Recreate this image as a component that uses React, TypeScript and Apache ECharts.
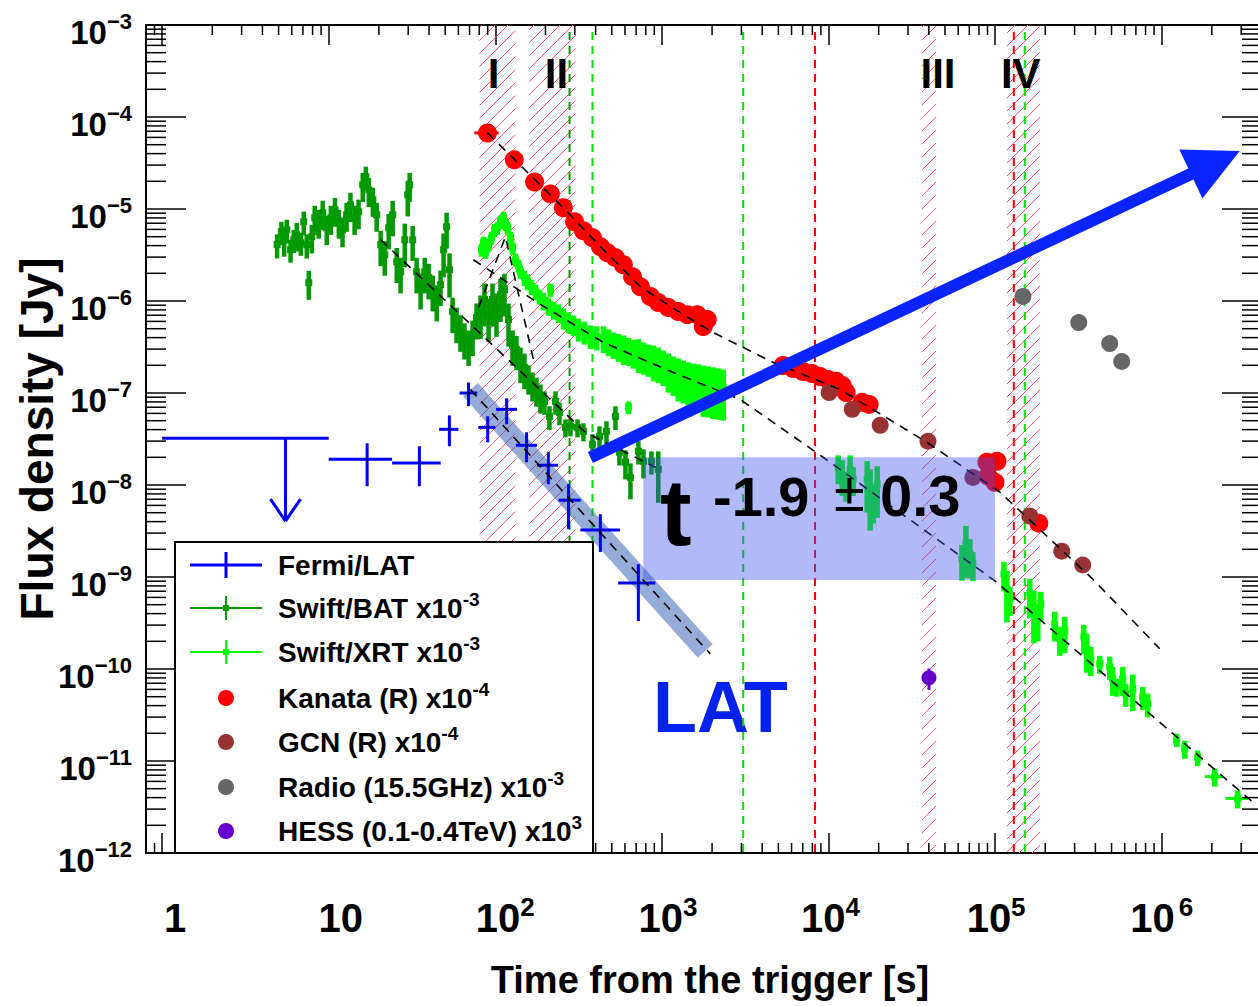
import React, { useEffect, useRef } from 'react';
import * as echarts from 'echarts';

const FONT = '"Liberation Sans", Arial, Helvetica, sans-serif';

const T_MIN = 0.8;
const T_MAX = 4e6;
const F_MIN = 1e-12;
const F_MAX = 1e-3;

// Fermi/LAT detections: [t, tLow, tHigh, flux, fluxLow, fluxHigh]
const latPoints = [
  [17, 10, 24, 1.9e-8, 9.7e-9, 2.84e-8],
  [35, 24, 47, 1.73e-8, 9.7e-9, 2.64e-8],
  [53, 46, 60, 4.03e-8, 2.64e-8, 5.71e-8],
  [69, 61, 78, 1.0e-7, 7.2e-8, 1.3e-7],
  [90, 79, 100, 4.23e-8, 2.91e-8, 5.57e-8],
  [117, 101, 135, 6.64e-8, 4.56e-8, 8.75e-8],
  [154, 133, 178, 2.7e-8, 1.77e-8, 3.74e-8],
  [208, 178, 238, 1.64e-8, 1.02e-8, 2.27e-8],
  [275, 240, 325, 6.84e-9, 3.32e-9, 1.02e-8],
  [427, 324, 560, 3.24e-9, 1.87e-9, 4.82e-9],
  [722, 546, 912, 8.61e-10, 3.33e-10, 1.38e-9],
];
// Fermi/LAT upper limit: [tArrow, flux, tLow, tHigh, arrowTipFlux]
const latUpperLimit = [[5.5, 3.22e-8, 1, 10, 4.05e-9]];

// Swift/BAT x1e-3: [t, flux, fluxErr]
const batPoints = [
  [4.9, 4.1e-6, 1.2e-6], [5.2, 5.66e-6, 1.6e-6], [5.4, 4.63e-6, 1.6e-6], [5.6, 5.94e-6, 1.7e-6],
  [5.9, 3.61e-6, 1.0e-6], [6.17, 4.63e-6, 1.3e-6], [6.43, 5.25e-6, 1.8e-6], [6.8, 4.3e-6, 1.2e-6],
  [7.08, 7.26e-6, 2.1e-6], [7.38, 4.09e-6, 1.2e-6], [7.59, 1.58e-6, 0.55e-6], [7.91, 4.99e-6, 1.7e-6],
  [8.24, 8.03e-6, 2.8e-6], [8.71, 7.26e-6, 2.5e-6], [9.2, 9.09e-6, 3.2e-6], [9.73, 6.25e-6, 2.2e-6],
  [10.3, 8.03e-6, 2.8e-6], [10.9, 9.8e-6, 3.4e-6], [11.5, 7.26e-6, 2.5e-6], [12.1, 5.94e-6, 2.1e-6],
  [12.8, 8.65e-6, 3.0e-6], [13.5, 1.11e-5, 3.9e-6], [14.3, 8.03e-6, 2.8e-6], [15.1, 9.33e-6, 3.3e-6],
  [16.0, 1.83e-5, 6.4e-6], [16.7, 2.24e-5, 6.4e-6], [17.4, 1.61e-5, 5.6e-6], [18.4, 1.26e-5, 4.4e-6],
  [19.4, 8.65e-6, 3.0e-6], [20.5, 4.09e-6, 1.7e-6], [21.7, 3.18e-6, 1.3e-6], [22.9, 6.25e-6, 2.6e-6],
  [24.2, 8.65e-6, 3.6e-6], [25.6, 2.67e-6, 1.1e-6], [27.0, 2.08e-6, 0.87e-6], [28.6, 4.63e-6, 2.3e-6],
  [29.8, 1.43e-5, 6.0e-6], [30.6, 1.83e-5, 6.4e-6], [31.9, 4.63e-6, 1.9e-6], [33.7, 2.08e-6, 0.87e-6],
  [35.6, 1.4e-6, 0.59e-6], [37.7, 2.08e-6, 0.87e-6], [39.8, 1.79e-6, 0.75e-6], [42.1, 1.33e-6, 0.56e-6],
  [44.5, 1.04e-6, 0.44e-6], [46.9, 1.51e-6, 0.63e-6], [48.9, 3.61e-6, 1.8e-6], [51.0, 6.41e-6, 2.7e-6],
  [53.1, 2.19e-6, 1.1e-6], [55.4, 7.67e-7, 3.2e-7], [58.5, 5.97e-7, 2.5e-7], [61.8, 4.9e-7, 2.1e-7],
  [65.3, 4.01e-7, 1.7e-7], [69.1, 3.37e-7, 1.4e-7], [73.0, 4.32e-7, 1.8e-7], [77.1, 6.61e-7, 2.8e-7],
  [81.5, 7.67e-7, 3.8e-7], [86.1, 1.04e-6, 5.1e-7], [91.1, 7.11e-7, 3.5e-7], [96.2, 1.04e-6, 5.1e-7],
  [101.6, 8.07e-7, 4.0e-7], [107.4, 1.17e-6, 5.8e-7], [113.4, 1.33e-6, 6.5e-7], [120.0, 6.28e-7, 3.1e-7],
  [126.8, 3.37e-7, 1.4e-7], [134.0, 2.97e-7, 1.2e-7], [141.6, 2.2e-7, 9.2e-8], [149.6, 1.89e-7, 7.9e-8],
  [158.1, 1.48e-7, 5.2e-8], [167.1, 1.24e-7, 4.3e-8], [176.6, 1.09e-7, 3.8e-8], [186.6, 9.18e-8, 3.2e-8],
  [197.2, 8.11e-8, 2.3e-8], [211.3, 5.57e-8, 1.6e-8], [229.6, 8.11e-8, 2.3e-8], [242.7, 6.16e-8, 1.7e-8],
  [263.6, 4.23e-8, 9.3e-9], [282.5, 4.34e-8, 9.6e-9], [311.2, 4.23e-8, 9.3e-9], [338.0, 3.83e-8, 8.5e-9],
  [382.8, 2.77e-8, 7.9e-9], [421.7, 3.38e-8, 9.6e-9], [464.6, 3.83e-8, 1.1e-8], [526.0, 5.57e-8, 1.6e-8],
  [555.9, 2.27e-8, 6.4e-9], [603.9, 1.77e-8, 6.2e-9], [647.3, 1.21e-8, 5.1e-9], [722.8, 2.33e-8, 6.6e-9],
  [774.5, 1.81e-8, 6.3e-9], [865, 1.81e-8, 5.1e-9], [950.8, 1.48e-8, 8.4e-9],
];

// Swift/XRT x1e-3: [t, flux, fluxErr, tErr]
const xrtPoints = [
  [82.6, 3.61e-6, 5.8e-7, 0], [84.9, 4.3e-6, 7.0e-7, 0], [87.4, 3.43e-6, 5.6e-7, 0], [91.1, 4.09e-6, 6.6e-7, 0],
  [94.8, 4.87e-6, 7.9e-7, 0], [98.9, 5.94e-6, 9.6e-7, 0], [103.0, 6.25e-6, 1.0e-6, 0], [107.4, 7.26e-6, 1.2e-6, 0],
  [111.9, 8.03e-6, 1.3e-6, 0], [115.1, 6.91e-6, 1.1e-6, 0], [118.3, 6.25e-6, 1.0e-6, 0], [123.3, 4.87e-6, 7.9e-7, 0],
  [126.8, 3.79e-6, 6.1e-7, 0], [132.1, 2.81e-6, 4.6e-7, 0], [137.7, 2.42e-6, 3.9e-7, 0], [141.6, 2.08e-6, 3.4e-7, 0],
  [149.6, 1.79e-6, 3.4e-7, 0], [156.0, 1.62e-6, 3.1e-7, 0], [164.8, 1.43e-6, 2.7e-7, 0], [174.2, 1.26e-6, 2.4e-7, 0],
  [184.0, 1.12e-6, 2.1e-7, 0], [194.5, 1.01e-6, 2.2e-7, 0], [208.4, 8.91e-7, 2.0e-7, 0], [214.3, 1.33e-6, 2.2e-7, 0],
  [223.4, 8.07e-7, 1.8e-7, 0], [239.3, 7.48e-7, 1.7e-7, 0], [256.4, 6.61e-7, 1.7e-7, 0], [274.8, 5.97e-7, 1.5e-7, 0],
  [294.4, 5.55e-7, 1.4e-7, 0], [315.5, 5.02e-7, 1.4e-7, 0], [342.6, 4.66e-7, 1.3e-7, 0], [372.4, 4.22e-7, 1.2e-7, 0],
  [404.6, 4.11e-7, 1.2e-7, 0], [445.7, 4.01e-7, 1.3e-7, 0], [477.5, 3.72e-7, 1.2e-7, 0], [511.6, 3.45e-7, 1.1e-7, 0],
  [548.1, 3.28e-7, 1.1e-7, 0], [587.4, 3.12e-7, 1.1e-7, 0], [629.6, 2.97e-7, 1.0e-7, 0], [674.5, 2.82e-7, 9.8e-8, 0],
  [722.8, 2.75e-7, 1.1e-7, 0], [774.5, 2.56e-7, 9.8e-8, 0], [829.9, 2.43e-7, 9.3e-8, 0], [889.3, 2.31e-7, 9.7e-8, 0],
  [950.8, 2.2e-7, 9.2e-8, 0], [1019, 2.04e-7, 8.5e-8, 0], [1092, 1.85e-7, 8.4e-8, 0], [1170, 1.71e-7, 7.8e-8, 0],
  [1253, 1.59e-7, 7.8e-8, 0], [1343, 1.51e-7, 7.4e-8, 0], [1439, 1.44e-7, 7.1e-8, 0], [1542, 1.37e-7, 7.2e-8, 0],
  [1652, 1.34e-7, 7.1e-8, 0], [1771, 1.27e-7, 7.2e-8, 0], [1897, 1.24e-7, 7.0e-8, 0], [2032, 1.21e-7, 6.9e-8, 0],
  [2178, 1.18e-7, 6.7e-8, 0], [2333, 1.15e-7, 6.5e-8, 0], [629.6, 6.98e-8, 1.1e-8, 0],
  [11430, 1.56e-8, 5.4e-9, 0], [12080, 1.31e-8, 5.5e-9, 0], [12760, 1.02e-8, 3.6e-9, 0], [13490, 1.48e-8, 6.2e-9, 0],
  [14060, 1.16e-8, 4.0e-9, 0], [17060, 1.16e-8, 6.6e-9, 0], [17780, 8.99e-9, 5.8e-9, 0], [18540, 7.01e-9, 3.2e-9, 0],
  [19590, 1.02e-8, 5.8e-9, 0], [63240, 1.57e-9, 6.6e-10, 0], [66800, 2.28e-9, 1.3e-9, 0], [70630, 1.77e-9, 8.0e-10, 0],
  [73600, 1.38e-9, 4.8e-10, 0], [113000, 1.08e-9, 3.8e-10, 0], [117700, 7.41e-10, 4.2e-10, 0], [122700, 5.78e-10, 2.0e-10, 0],
  [161500, 6.55e-10, 3.0e-10, 0], [170900, 4.5e-10, 2.6e-10, 0], [180300, 3.5e-10, 1.5e-10, 0], [188000, 5.09e-10, 1.8e-10, 0],
  [228000, 3.09e-10, 1.1e-10, 0], [244500, 2.13e-10, 7.4e-11, 0], [261800, 2.59e-10, 1.1e-10, 0], [340700, 2.23e-10, 7.8e-11, 0],
  [354800, 1.66e-10, 7.5e-11, 0], [375000, 1.29e-10, 4.5e-11, 0], [424600, 1.14e-10, 2.5e-11, 0], [487500, 1.06e-10, 3.0e-11, 0],
  [508200, 7.82e-11, 2.7e-11, 0], [537000, 6.4e-11, 1.4e-11, 0], [583400, 7.82e-11, 2.7e-11, 0], [608000, 5.38e-11, 1.5e-11, 0],
  [669900, 6.09e-11, 2.6e-11, 0], [769100, 4.99e-11, 1.4e-11, 0], [824000, 4.19e-11, 1.2e-11, 0], [1.23e6, 1.7e-11, 2.8e-12, 0],
  [1.374e6, 1.36e-11, 3.0e-12, 0], [1.644e6, 1.09e-11, 2.1e-12, 0], [2.08e6, 6.76e-12, 1.5e-12, 2.65e5],
  [2.858e6, 3.91e-12, 8.6e-13, 4.4e5],
];

// Kanata (R) x1e-4: [t, flux, tErr]
const kanataPoints = [
  [89.8, 6.71e-5, 15], [130, 3.42e-5, 0], [172, 1.97e-5, 0], [214, 1.46e-5, 0], [256, 1.03e-5, 0],
  [299, 7.26e-6, 0], [338, 5.8e-6, 0], [383, 4.87e-6, 0], [428, 3.89e-6, 0], [471, 3.35e-6, 0],
  [526, 2.96e-6, 0], [587, 2.48e-6, 0], [666, 1.84e-6, 0], [743, 1.43e-6, 0], [853, 1.12e-6, 0],
  [951, 9.62e-7, 0], [1092, 8.48e-7, 0], [1253, 7.67e-7, 0], [1419, 7.11e-7, 0], [1629, 7.11e-7, 0],
  [1871, 6.28e-7, 0], [1771, 5.27e-7, 0], [5333, 1.99e-7, 0], [6123, 1.85e-7, 0], [7031, 1.71e-7, 0],
  [7962, 1.63e-7, 0], [8913, 1.51e-7, 0], [9954, 1.4e-7, 0], [11110, 1.34e-7, 0], [12080, 1.21e-7, 0],
  [12760, 1.01e-7, 0], [15920, 7.91e-8, 0], [17530, 7.52e-8, 0], [89300, 1.77e-8, 0], [102600, 1.81e-8, 0],
  [90600, 1.25e-8, 0], [99800, 1.07e-8, 0], [182900, 3.85e-9, 0],
];

// GCN (R) x1e-4: [t, flux]
const gcnPoints = [
  [10090, 1.01e-7], [13870, 6.64e-8], [20420, 4.45e-8], [39540, 2.99e-8],
  [73600, 1.21e-8], [161500, 4.59e-9], [251200, 1.91e-9], [335700, 1.35e-9],
];

// Radio 15.5 GHz x1e-3: [t, flux]
const radioPoints = [[146900, 1.12e-6], [317700, 5.83e-7], [487500, 3.45e-7], [575400, 2.2e-7]];

// HESS 0.1-0.4 TeV x1e3: [t, flux, fluxErr]
const hessPoints = [[40090, 8.03e-11, 2.1e-11]];

// Power-law fits (dashed)
const batFit = [[20.5, 4.63e-6], [347, 3.74e-8], [912, 1.56e-8]];
const xrtFlareFit = [[79.3, 8.48e-7], [115, 4.99e-6], [172, 2.04e-7]];
const xrtDecayFit = [
  [73.9, 2.81e-6], [179, 9.62e-7], [446, 3.54e-7], [1170, 1.67e-7], [2951, 8.51e-8],
  [10230, 1.77e-8], [99800, 9.06e-10], [3.72e6, 3.28e-12],
];
const kanataFit = [
  [89.8, 6.71e-5], [256, 1.03e-5], [428, 3.89e-6], [743, 1.43e-6], [1288, 7.48e-7], [2032, 4.54e-7],
  [4656, 2.15e-7], [11750, 1.09e-7], [39000, 2.91e-8], [106900, 8.35e-9], [385400, 9.51e-10], [972600, 1.66e-10],
];
const latFit = [[71, 1.09e-7], [1950, 1.46e-10]];
const latBand = [[71, 1.09e-7], [1820, 1.57e-10]];

// Observation windows (shaded) and their labels
const windowRanges = [[80.4, 132], [160, 303], [36400, 44200], [117700, 185600]];
const windowNames = ['I', 'II', 'III', 'IV'];
const windowLabelTimes = [97.5, 233, 45400, 142600];
const windowLabelFlux = 2.96e-4;

// Vertical reference epochs
const batEpochs = [279];
const xrtEpochs = [383, 3076, 150700];
const opticalEpochs = [8300, 129500];

// Trend arrow and the decay-index box: [t0, F0, t1, F1]
const trendArrow = [[372, 1.99e-8, 2.94e6, 4.28e-5]];
const indexBox = [[773, 2.0e-8, 99800, 9.29e-10]];

// Minor tick positions of both logarithmic axes
const minorTimes: number[][] = [];
for (let k = -1; k <= 6; k++) {
  for (let m = 2; m <= 9; m++) {
    const v = m * Math.pow(10, k);
    if (v > T_MIN && v < T_MAX) minorTimes.push([v, 1e-6]);
  }
}
const minorFluxes: number[][] = [];
for (let k = -12; k <= -4; k++) {
  for (let m = 2; m <= 9; m++) {
    const v = m * Math.pow(10, k);
    if (v > F_MIN && v < F_MAX) minorFluxes.push([1, v]);
  }
}

const C = {
  lat: '#0000ff',
  bat: '#009900',
  xrt: '#00ff00',
  kanata: '#ff0000',
  gcn: '#993333',
  radio: '#666666',
  hess: '#6600cc',
  hatch: 'rgb(255,79,123)',
  arrow: '#0a24ff',
};

const xShift = [13, 12, 10, 6, 2, 1, -2];
const xRich: any = { s: { fontFamily: FONT, fontWeight: 'bold', fontSize: 26, lineHeight: 26, verticalAlign: 'top', color: '#000' } };
xShift.forEach((sh, i) => {
  xRich['b' + i] = {
    fontFamily: FONT, fontWeight: 'bold', fontSize: 40, lineHeight: 40, color: '#000',
    padding: sh >= 0 ? [8, 0, 0, 2 * sh] : [8, -2 * sh, 0, 0],
  };
});

const xLabel = (v: number) => {
  const l = Math.log10(v);
  const e = Math.round(l);
  if (Math.abs(l - e) > 1e-6 || e < 0 || e > 6) return '';
  if (e === 0) return '{b0|1}';
  if (e === 1) return '{b1|10}';
  return `{b${e}|10}{s|${e}}`;
};

const yLabel = (v: number) => {
  const l = Math.log10(v);
  const e = Math.round(l);
  if (Math.abs(l - e) > 1e-6) return '';
  return `{b|10}{s|\u2212${-e}}`;
};

const yRich = {
  b: { fontFamily: FONT, fontWeight: 'bold', fontSize: 33, lineHeight: 30, padding: [14, 0, 0, 0], color: '#000' },
  s: { fontFamily: FONT, fontWeight: 'bold', fontSize: 22, lineHeight: 20, verticalAlign: 'top', color: '#000' },
};

const line = (x1: number, y1: number, x2: number, y2: number, stroke: string, lineWidth: number, extra: any = {}) => ({
  type: 'line', shape: { x1, y1, x2, y2 }, style: { stroke, lineWidth, ...extra },
});

const errorBarSeries = (name: string, data: number[][], color: string, marker: number, lw: number, z: number) => ({
  type: 'custom', name, z, clip: true,
  data: data.map((d) => [d[0], d[1], d[2] || 0, d[3] || 0]),
  encode: { x: 0, y: 1 },
  renderItem: (params: any, api: any) => {
    const t = api.value(0), f = api.value(1), e = api.value(2) || 0, xe = api.value(3) || 0;
    const c = api.coord([t, f]);
    const children: any[] = [];
    if (e > 0) {
      const lo = api.coord([t, Math.max(f - e, f * 0.05)]);
      const hi = api.coord([t, f + e]);
      children.push(line(c[0], lo[1], c[0], hi[1], color, lw));
    }
    if (xe > 0) {
      const l = api.coord([Math.max(t - xe, t * 0.05), f]);
      const r = api.coord([t + xe, f]);
      children.push(line(l[0], c[1], r[0], c[1], color, Math.min(lw, 3)));
    }
    if (marker > 0) {
      children.push({ type: 'rect', shape: { x: c[0] - marker / 2, y: c[1] - marker / 2, width: marker, height: marker }, style: { fill: color } });
    }
    return { type: 'group', children };
  },
});

const fitLine = (name: string, data: number[][]) => ({
  type: 'line', name, data, z: 5, showSymbol: false, symbol: 'none', silent: true,
  lineStyle: { color: '#000', width: 1.6, type: [9, 7] },
});

const scatter = (name: string, data: number[][], color: string, size: number) => ({
  type: 'scatter', name, data: data.map((d) => [d[0], d[1]]), symbol: 'circle', symbolSize: size, z: 4, silent: true,
  itemStyle: { color, opacity: 1 },
});

function buildOption() {
  const legendRich = {
    m: { fontFamily: FONT, fontWeight: 'bold', fontSize: 28, lineHeight: 30, padding: [6, 0, 0, 0], fill: '#000', color: '#000' },
    s: { fontFamily: FONT, fontWeight: 'bold', fontSize: 19, lineHeight: 18, verticalAlign: 'top', fill: '#000', color: '#000' },
  };
  const rows = [565, 608, 652, 698, 742, 787, 831];
  const legendTexts = [
    '{m|Fermi/LAT}',
    '{m|Swift/BAT x10}{s|-3}',
    '{m|Swift/XRT x10}{s|-3}',
    '{m|Kanata (R) x10}{s|-4}',
    '{m|GCN (R) x10}{s|-4}',
    '{m|Radio (15.5GHz) x10}{s|-3}',
    '{m|HESS (0.1-0.4TeV) x10}{s|3}',
  ];
  const legendChildren: any[] = [
    { type: 'rect', shape: { x: 175, y: 542, width: 418, height: 311 }, style: { fill: '#fff', stroke: '#000', lineWidth: 2 } },
    line(190, rows[0], 262, rows[0], C.lat, 3),
    line(226, rows[0] - 13, 226, rows[0] + 13, C.lat, 3),
    line(190, rows[1], 262, rows[1], C.bat, 2),
    line(226, rows[1] - 12, 226, rows[1] + 12, C.bat, 2),
    { type: 'rect', shape: { x: 223, y: rows[1] - 3, width: 6, height: 6 }, style: { fill: C.bat } },
    line(190, rows[2], 262, rows[2], C.xrt, 2),
    line(226, rows[2] - 12, 226, rows[2] + 12, C.xrt, 2),
    { type: 'rect', shape: { x: 223, y: rows[2] - 3, width: 6, height: 6 }, style: { fill: C.xrt } },
    { type: 'circle', shape: { cx: 226, cy: rows[3], r: 8 }, style: { fill: C.kanata } },
    { type: 'circle', shape: { cx: 226, cy: rows[4], r: 8 }, style: { fill: C.gcn } },
    { type: 'circle', shape: { cx: 226, cy: rows[5], r: 8 }, style: { fill: C.radio } },
    { type: 'circle', shape: { cx: 226, cy: rows[6], r: 8 }, style: { fill: C.hess } },
  ];
  legendTexts.forEach((txt, i) => {
    legendChildren.push({
      type: 'text', x: 278, y: rows[i] - 3,
      style: { text: txt, rich: legendRich, align: 'left', verticalAlign: 'middle', fill: '#000' },
    });
  });

  const axisCommon = {
    type: 'log', logBase: 10, splitLine: { show: false },
    axisLine: { show: true, onZero: false, lineStyle: { color: '#000', width: 2 } },
  };

  return {
    animation: false,
    backgroundColor: '#fff',
    grid: { left: 146, top: 25, right: -4, bottom: 153, containLabel: false, outerBoundsMode: 'none' },
    xAxis: [
      {
        ...axisCommon, min: T_MIN, max: T_MAX, position: 'bottom', splitNumber: 7,
        axisTick: { show: true, inside: true, length: 20, lineStyle: { color: '#000', width: 1.5 } },
        axisLabel: { show: true, margin: 41, formatter: xLabel, rich: xRich, color: '#000', showMinLabel: false, showMaxLabel: false },
        name: 'Time from the trigger [s]', nameLocation: 'middle', nameGap: 108, nameMoveOverlap: false,
        nameTextStyle: { fontFamily: FONT, fontSize: 38, fontWeight: 'bold', color: '#000', padding: [0, 0, 0, 12] },
      },
      {
        ...axisCommon, min: T_MIN, max: T_MAX, position: 'top', splitNumber: 7,
        axisTick: { show: true, inside: true, length: 20, lineStyle: { color: '#000', width: 1.5 } },
        axisLabel: { show: false },
      },
    ],
    yAxis: [
      {
        ...axisCommon, min: F_MIN, max: F_MAX, position: 'left', splitNumber: 9,
        axisTick: { show: true, inside: true, length: 40, lineStyle: { color: '#000', width: 1.5 } },
        axisLabel: { show: true, margin: 14, formatter: yLabel, rich: yRich, color: '#000' },
        name: 'Flux density [Jy]', nameLocation: 'middle', nameGap: 86, nameRotate: 90, nameMoveOverlap: false,
        nameTextStyle: { fontFamily: FONT, fontSize: 46, fontWeight: 'bold', color: '#000' },
      },
      {
        ...axisCommon, min: F_MIN, max: F_MAX, position: 'right', splitNumber: 9,
        axisTick: { show: true, inside: true, length: 40, lineStyle: { color: '#000', width: 1.5 } },
        axisLabel: { show: false },
      },
    ],
    series: [
      // hatched observation windows, one stroked path per window
      {
        type: 'custom', name: 'windows', z: 1, clip: true, silent: true,
        data: windowRanges.map((r) => [r[0], 1e-6, r[1]]),
        encode: { x: 0, y: 1 },
        itemStyle: { color: C.hatch },
        renderItem: (params: any, api: any) => {
          const cs = params.coordSys;
          const x0 = api.coord([api.value(0), 1e-6])[0];
          const x1 = api.coord([api.value(2), 1e-6])[0];
          const y0 = cs.y, y1 = cs.y + cs.height;
          const step = 13;
          let d = '';
          for (let c = Math.ceil((x0 + y0) / step) * step; c <= x1 + y1; c += step) {
            const xa = Math.max(x0, c - y1), xb = Math.min(x1, c - y0);
            if (xb <= xa) continue;
            d += `M${xa.toFixed(1)} ${(c - xa).toFixed(1)}L${xb.toFixed(1)} ${(c - xb).toFixed(1)}`;
          }
          return {
            type: 'path',
            shape: { pathData: d },
            style: { stroke: C.hatch, fill: null, lineWidth: 1 },
          };
        },
      },
      // vertical reference epochs
      ...[
        [batEpochs, '#009900'],
        [xrtEpochs, '#00e000'],
        [opticalEpochs, '#ff0000'],
      ].map(([epochs, color]: any) => ({
        type: 'custom', name: 'epochs', z: 2, clip: true, silent: true,
        data: epochs.map((t: number) => [t, 1e-6]),
        encode: { x: 0, y: 1 },
        renderItem: (params: any, api: any) => {
          const cs = params.coordSys;
          const x = api.coord([api.value(0), 1e-6])[0];
          return line(x, cs.y + 7, x, cs.y + cs.height, color, 2, { lineDash: [8, 6] });
        },
      })),
      // LAT decay band
      {
        type: 'line', name: 'LAT band', data: latBand, z: 3, showSymbol: false, symbol: 'none', silent: true,
        lineStyle: { color: 'rgba(45,89,177,0.5)', width: 20, cap: 'butt' },
      },
      errorBarSeries('Swift/BAT', batPoints, C.bat, 7, 4.5, 3),
      errorBarSeries('Swift/XRT', xrtPoints, C.xrt, 7, 5.5, 3),
      errorBarSeries('Kanata xerr', kanataPoints.map((d) => [d[0], d[1], 0, d[2]]), C.kanata, 0, 3, 4),
      scatter('Kanata', kanataPoints, C.kanata, 19),
      scatter('GCN', gcnPoints, C.gcn, 17),
      scatter('Radio', radioPoints, C.radio, 17),
      errorBarSeries('HESS err', hessPoints, C.hess, 0, 3, 4),
      scatter('HESS', hessPoints, C.hess, 15),
      // Fermi/LAT crosses
      {
        type: 'custom', name: 'Fermi/LAT', z: 4, clip: true, silent: true,
        data: latPoints, encode: { x: 0, y: 3 },
        renderItem: (params: any, api: any) => {
          const t = api.value(0), f = api.value(3);
          const c = api.coord([t, f]);
          const l = api.coord([api.value(1), f]);
          const r = api.coord([api.value(2), f]);
          const lo = api.coord([t, api.value(4)]);
          const hi = api.coord([t, api.value(5)]);
          return {
            type: 'group', children: [
              line(l[0], c[1], r[0], c[1], C.lat, 3),
              line(c[0], lo[1], c[0], hi[1], C.lat, 3),
              { type: 'rect', shape: { x: c[0] - 1, y: c[1] - 1, width: 2, height: 2 }, style: { fill: '#000' } },
            ],
          };
        },
      },
      {
        type: 'custom', name: 'Fermi/LAT UL', z: 4, clip: true, silent: true,
        data: latUpperLimit, encode: { x: 0, y: 1 },
        renderItem: (params: any, api: any) => {
          const c = api.coord([api.value(0), api.value(1)]);
          const l = api.coord([api.value(2), api.value(1)]);
          const r = api.coord([api.value(3), api.value(1)]);
          const tip = api.coord([api.value(0), api.value(4)]);
          return {
            type: 'group', children: [
              line(l[0], c[1], r[0], c[1], C.lat, 3),
              line(c[0], c[1], tip[0], tip[1], C.lat, 3),
              line(tip[0] - 15, tip[1] - 22, tip[0], tip[1], C.lat, 3),
              line(tip[0] + 15, tip[1] - 22, tip[0], tip[1], C.lat, 3),
            ],
          };
        },
      },
      fitLine('BAT fit', batFit),
      fitLine('XRT flare fit', xrtFlareFit),
      fitLine('XRT fit', xrtDecayFit),
      fitLine('Kanata fit', kanataFit),
      fitLine('LAT fit', latFit),
      // decay-index box
      {
        type: 'custom', name: 'index box', z: 6, clip: true, silent: true,
        data: indexBox, encode: { x: [0, 2], y: [1, 3] },
        renderItem: (params: any, api: any) => {
          const a = api.coord([api.value(0), api.value(1)]);
          const b = api.coord([api.value(2), api.value(3)]);
          return {
            type: 'rect', shape: { x: a[0], y: a[1], width: b[0] - a[0], height: b[1] - a[1] },
            style: { fill: 'rgba(60,80,240,0.4)' },
          };
        },
      },
      // trend arrow
      {
        type: 'custom', name: 'trend', z: 7, clip: true, silent: true,
        data: trendArrow, encode: { x: [0, 2], y: [1, 3] },
        renderItem: (params: any, api: any) => {
          const p0 = api.coord([api.value(0), api.value(1)]);
          const p1 = api.coord([api.value(2), api.value(3)]);
          const dx = p1[0] - p0[0], dy = p1[1] - p0[1];
          const len = Math.hypot(dx, dy);
          const ux = dx / len, uy = dy / len, nx = -uy, ny = ux;
          const headLen = 54, headHalf = 27;
          const bx = p1[0] - ux * headLen, by = p1[1] - uy * headLen;
          return {
            type: 'group', children: [
              line(p0[0], p0[1], bx + ux * 4, by + uy * 4, C.arrow, 12),
              {
                type: 'polygon',
                shape: { points: [[p1[0], p1[1]], [bx + nx * headHalf, by + ny * headHalf], [bx - nx * headHalf, by - ny * headHalf]] },
                style: { fill: C.arrow },
              },
            ],
          };
        },
      },
      // window labels
      {
        type: 'scatter', name: 'window labels', z: 8, silent: true, symbolSize: 2,
        itemStyle: { color: 'rgba(255,255,255,0)' },
        data: windowNames.map((n, i) => ({ name: n, value: [windowLabelTimes[i], windowLabelFlux] })),
        label: {
          show: true, position: 'inside', formatter: '{b}', fontFamily: FONT, fontSize: 42, fontWeight: 'bold',
          color: '#000', textBorderWidth: 0, opacity: 1,
        },
      },
      // minor ticks
      {
        type: 'custom', name: 'minor x', z: 9, clip: false, silent: true,
        data: minorTimes, encode: { x: 0, y: 1 },
        renderItem: (params: any, api: any) => {
          const cs = params.coordSys;
          const x = api.coord([api.value(0), 1e-6])[0];
          return {
            type: 'group', children: [
              line(x, cs.y + cs.height, x, cs.y + cs.height - 10, '#000', 1.5),
              line(x, cs.y, x, cs.y + 10, '#000', 1.5),
            ],
          };
        },
      },
      {
        type: 'custom', name: 'minor y', z: 9, clip: false, silent: true,
        data: minorFluxes, encode: { x: 0, y: 1 },
        renderItem: (params: any, api: any) => {
          const cs = params.coordSys;
          const y = api.coord([1, api.value(1)])[1];
          return {
            type: 'group', children: [
              line(cs.x, y, cs.x + 20, y, '#000', 1.5),
              line(cs.x + cs.width, y, cs.x + cs.width - 20, y, '#000', 1.5),
            ],
          };
        },
      },
    ],
    graphic: [
      {
        type: 'text', z: 1, x: 653, y: 707,
        style: { text: 'LAT', fill: '#0022ee', fontFamily: FONT, fontWeight: 'bold', fontSize: 72, align: 'left', verticalAlign: 'middle' },
      },
      {
        type: 'text', z: 30, x: 660, y: 512,
        style: { text: 't', fill: '#000', fontFamily: FONT, fontWeight: 'bold', fontSize: 95, align: 'left', verticalAlign: 'middle' },
      },
      {
        type: 'text', z: 30, x: 713, y: 496,
        style: { text: '-1.9', fill: '#000', fontFamily: FONT, fontWeight: 'bold', fontSize: 56, align: 'left', verticalAlign: 'middle' },
      },
      {
        type: 'text', z: 30, x: 834, y: 491,
        style: { text: '\u00b1', fill: '#000', fontFamily: FONT, fontWeight: 'normal', fontSize: 56, align: 'left', verticalAlign: 'middle' },
      },
      {
        type: 'text', z: 30, x: 880, y: 495,
        style: { text: '0.3', fill: '#000', fontFamily: FONT, fontWeight: 'bold', fontSize: 58, align: 'left', verticalAlign: 'middle' },
      },
      { type: 'group', z: 40, children: legendChildren.map((c) => ({ ...c, z: 40 })) },
    ],
  };
}

export default function App() {
  const ref = useRef<HTMLDivElement>(null);
  useEffect(() => {
    if (!ref.current) return;
    const chart = echarts.init(ref.current, null, { renderer: 'svg' });
    chart.setOption(buildOption() as any);
    return () => chart.dispose();
  }, []);
  return (
    <div
      ref={ref}
      style={{ position: 'absolute', left: 0, top: 0, width: 1258, height: 1006, background: '#fff' }}
    />
  );
}
